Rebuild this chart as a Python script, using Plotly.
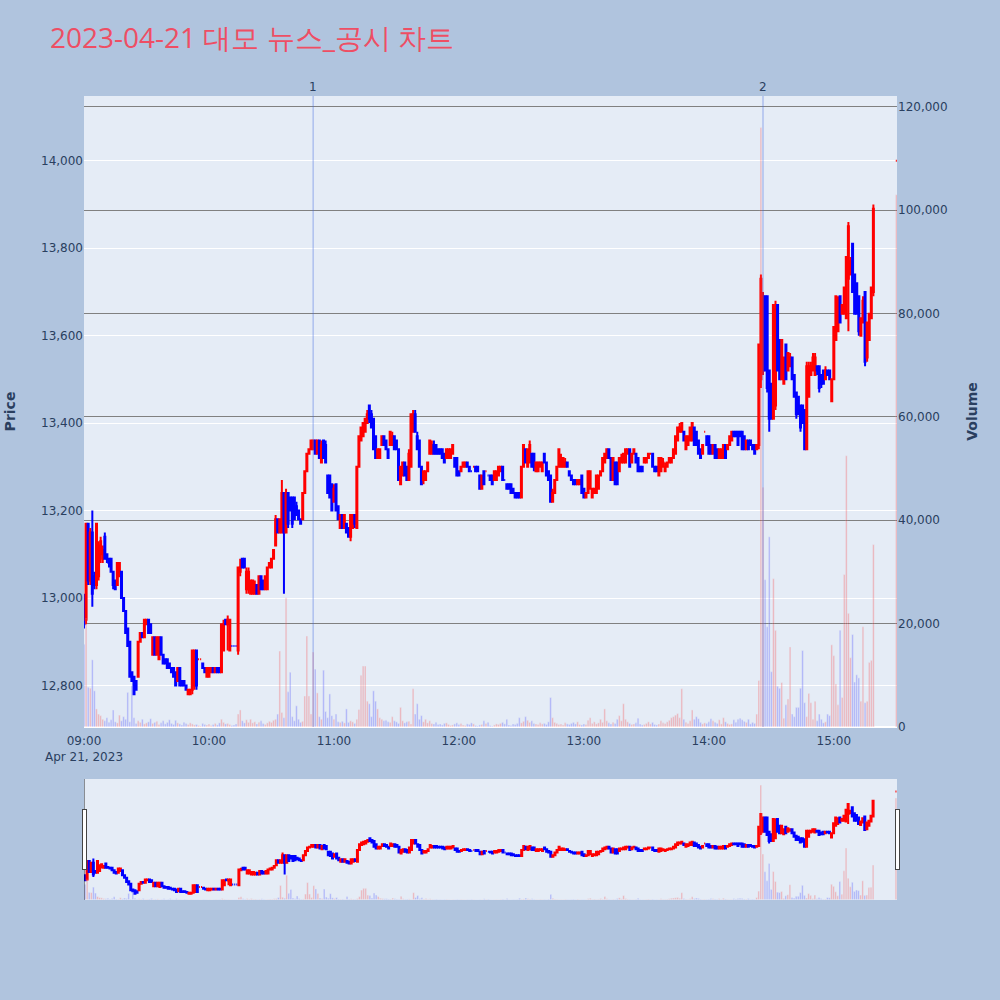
import plotly.graph_objects as go
import pandas as pd

# one value per minute, 09:00 .. 15:19, then the 15:30 closing auction
opens = [
13000,12950,13170,13040,13150,13050,13030,13050,13100,13090,  # 0
13140,13100,13090,13090,13060,13040,13030,13050,13060,13000,  # 10
12970,12930,12900,12830,12820,12810,12820,12900,12920,12910,  # 20
12940,12950,12940,12870,12910,12870,12860,12910,12870,12860,  # 30
12860,12850,12840,12840,12830,12810,12840,12810,12810,12800,  # 40
12780,12780,12790,12800,12880,12860,12860,12850,12840,12820,  # 50
12820,12830,12840,12830,12840,12840,12830,12880,12950,12940,  # 60
12880,12890,12890,12890,12880,13060,13090,13090,13020,13020,  # 70
13010,13010,13010,13030,13010,13050,13040,13020,13020,13070,  # 80
13070,13090,13120,13180,13150,13150,13240,13150,13240,13230,  # 90
13230,13230,13210,13200,13180,13180,13240,13290,13330,13340,  # 100
13340,13360,13330,13360,13310,13360,13350,13280,13280,13260,  # 110
13220,13260,13210,13160,13190,13160,13170,13160,13140,13160,  # 120
13190,13160,13300,13360,13370,13380,13400,13440,13420,13410,  # 130
13370,13320,13320,13350,13370,13360,13340,13350,13350,13370,  # 140
13360,13340,13260,13280,13310,13300,13270,13300,13380,13420,  # 150
13370,13360,13300,13270,13270,13290,13330,13330,13350,13350,  # 160
13340,13340,13340,13330,13320,13320,13320,13330,13320,13320,  # 170
13290,13290,13300,13300,13310,13300,13290,13300,13300,13300,  # 180
13280,13250,13290,13290,13280,13280,13280,13270,13270,13280,  # 190
13290,13300,13270,13260,13260,13260,13250,13240,13240,13240,  # 200
13230,13300,13340,13300,13310,13330,13330,13290,13290,13300,  # 210
13290,13330,13310,13290,13280,13220,13240,13270,13300,13300,  # 220
13300,13300,13310,13290,13280,13270,13270,13260,13260,13280,  # 230
13250,13230,13240,13250,13230,13240,13240,13250,13280,13290,  # 240
13310,13320,13340,13320,13270,13310,13310,13290,13310,13310,  # 250
13310,13330,13340,13310,13330,13330,13320,13300,13300,13310,  # 260
13310,13320,13330,13330,13300,13300,13280,13290,13300,13290,  # 270
13300,13310,13310,13320,13330,13360,13380,13380,13380,13340,  # 280
13350,13360,13360,13390,13380,13360,13340,13330,13380,13370,  # 290
13370,13350,13330,13350,13340,13320,13320,13320,13350,13340,  # 300
13350,13360,13380,13380,13380,13380,13380,13370,13340,13360,  # 310
13360,13350,13350,13340,13350,13500,13520,13690,13690,13520,  # 320
13490,13410,13440,13670,13590,13500,13490,13580,13520,13530,  # 330
13550,13510,13470,13460,13440,13440,13430,13340,13460,13510,  # 340
13520,13510,13530,13530,13510,13520,13500,13520,13520,13450,  # 350
13500,13590,13610,13690,13650,13650,13640,13730,13740,13810,  # 360
13740,13720,13690,13600,13630,13700,13550,13590,13640,13700,  # 370
14000]

highs = [
13010,13170,13170,13160,13200,13060,13170,13130,13140,13120,  # 0
13150,13100,13090,13090,13060,13040,13080,13080,13060,13000,  # 10
12970,12930,12900,12830,12820,12810,12900,12920,12920,12950,  # 20
12950,12950,12940,12910,12910,12910,12910,12910,12870,12860,  # 30
12860,12850,12840,12840,12830,12840,12840,12810,12810,12800,  # 40
12790,12790,12880,12880,12880,12860,12860,12850,12840,12840,  # 50
12840,12840,12840,12840,12840,12840,12940,12950,12950,12960,  # 60
12950,12890,12890,12890,13070,13090,13090,13090,13070,13070,  # 70
13040,13040,13040,13030,13050,13050,13040,13050,13070,13080,  # 80
13090,13110,13190,13180,13180,13270,13240,13250,13240,13230,  # 90
13230,13230,13220,13200,13180,13240,13290,13330,13340,13360,  # 100
13360,13360,13360,13360,13360,13360,13360,13280,13280,13260,  # 110
13260,13260,13210,13190,13190,13190,13170,13160,13190,13190,  # 120
13190,13300,13370,13390,13400,13410,13430,13440,13430,13410,  # 130
13370,13340,13340,13370,13370,13360,13340,13380,13380,13370,  # 140
13360,13340,13300,13310,13310,13300,13340,13420,13430,13430,  # 150
13380,13360,13300,13290,13290,13310,13360,13360,13360,13350,  # 160
13340,13340,13340,13330,13340,13340,13340,13350,13320,13320,  # 170
13290,13300,13310,13310,13310,13300,13290,13300,13300,13300,  # 180
13280,13280,13290,13290,13280,13280,13280,13290,13290,13300,  # 190
13300,13300,13270,13260,13260,13260,13250,13240,13240,13240,  # 200
13300,13350,13340,13340,13360,13330,13330,13310,13310,13310,  # 210
13310,13330,13310,13290,13280,13250,13270,13300,13340,13330,  # 220
13320,13320,13310,13290,13280,13270,13270,13270,13270,13280,  # 230
13250,13240,13290,13290,13250,13250,13280,13280,13290,13320,  # 240
13330,13340,13340,13320,13320,13310,13310,13320,13330,13330,  # 250
13340,13340,13340,13330,13340,13330,13320,13300,13300,13320,  # 260
13320,13330,13330,13330,13300,13300,13320,13320,13320,13310,  # 270
13310,13320,13320,13340,13370,13390,13400,13400,13380,13370,  # 280
13370,13390,13400,13390,13380,13360,13340,13350,13380,13370,  # 290
13370,13350,13350,13350,13340,13340,13340,13350,13350,13350,  # 300
13370,13380,13380,13380,13380,13380,13380,13370,13360,13360,  # 310
13360,13350,13350,13350,13580,13740,13700,13690,13690,13520,  # 320
13490,13670,13680,13670,13590,13590,13550,13580,13560,13560,  # 330
13550,13510,13470,13460,13440,13440,13430,13540,13540,13540,  # 340
13560,13560,13530,13530,13510,13520,13530,13520,13520,13500,  # 350
13620,13690,13690,13690,13670,13710,13780,13860,13780,13810,  # 360
13740,13720,13690,13640,13690,13700,13630,13650,13710,13900,  # 370
14000]

lows = [
12930,12940,13030,13030,12980,13020,13020,13040,13080,13080,  # 0
13090,13080,13070,13060,13020,13020,13030,13050,13000,12970,  # 10
12920,12890,12820,12810,12780,12790,12820,12900,12910,12910,  # 20
12940,12920,12920,12870,12870,12870,12860,12870,12850,12850,  # 30
12840,12840,12830,12820,12800,12810,12800,12800,12800,12790,  # 40
12780,12780,12780,12790,12790,12860,12860,12840,12830,12820,  # 50
12820,12830,12830,12830,12830,12830,12830,12880,12940,12880,  # 60
12880,12890,12890,12890,12870,13050,13070,13070,13010,13010,  # 70
13010,13010,13010,13010,13010,13020,13020,13020,13020,13070,  # 80
13070,13090,13120,13150,13150,13150,13010,13150,13160,13200,  # 90
13160,13180,13190,13180,13170,13180,13240,13290,13330,13340,  # 100
13340,13330,13330,13320,13310,13320,13310,13240,13230,13200,  # 110
13220,13200,13180,13160,13160,13160,13150,13140,13130,13160,  # 120
13160,13160,13300,13360,13370,13380,13400,13400,13390,13340,  # 130
13320,13320,13320,13350,13350,13340,13320,13350,13350,13340,  # 140
13340,13270,13260,13280,13280,13270,13270,13300,13380,13380,  # 150
13340,13300,13260,13260,13270,13290,13330,13330,13330,13330,  # 160
13330,13330,13320,13310,13320,13320,13320,13330,13300,13280,  # 170
13280,13290,13300,13300,13300,13290,13290,13300,13290,13290,  # 180
13250,13250,13260,13290,13280,13270,13260,13270,13270,13280,  # 190
13290,13270,13270,13250,13250,13240,13240,13230,13230,13230,  # 200
13230,13300,13310,13300,13310,13300,13290,13290,13290,13300,  # 210
13290,13310,13280,13270,13220,13220,13240,13270,13300,13300,  # 220
13300,13300,13300,13280,13270,13260,13260,13260,13260,13240,  # 230
13230,13230,13240,13250,13230,13240,13240,13250,13280,13290,  # 240
13310,13320,13320,13270,13270,13260,13260,13290,13310,13310,  # 250
13310,13330,13300,13310,13330,13310,13290,13290,13290,13310,  # 260
13310,13320,13330,13300,13290,13290,13280,13290,13300,13290,  # 270
13300,13310,13310,13320,13330,13360,13380,13380,13360,13340,  # 280
13350,13360,13360,13350,13350,13330,13320,13330,13380,13350,  # 290
13330,13330,13330,13320,13320,13320,13320,13320,13320,13340,  # 300
13350,13360,13370,13370,13350,13370,13340,13340,13340,13340,  # 310
13350,13340,13330,13340,13340,13480,13510,13520,13470,13380,  # 320
13410,13410,13430,13520,13500,13500,13490,13500,13520,13530,  # 330
13500,13460,13410,13420,13380,13400,13340,13340,13460,13510,  # 340
13520,13510,13510,13470,13480,13490,13500,13510,13500,13450,  # 350
13500,13590,13610,13630,13650,13650,13640,13610,13740,13700,  # 360
13650,13650,13600,13600,13630,13530,13540,13590,13640,13690,  # 370
14000]

closes = [
12940,13170,13040,13150,13010,13030,13170,13120,13130,13110,  # 0
13090,13090,13080,13060,13030,13020,13080,13080,13000,12970,  # 10
12920,12890,12820,12810,12780,12790,12900,12920,12910,12950,  # 20
12950,12920,12920,12910,12870,12910,12910,12870,12850,12850,  # 30
12840,12840,12830,12820,12800,12840,12800,12800,12800,12790,  # 40
12790,12790,12880,12880,12800,12860,12860,12840,12830,12840,  # 50
12840,12840,12830,12840,12830,12830,12940,12940,12940,12950,  # 60
12950,12890,12890,12890,13070,13070,13070,13070,13060,13060,  # 70
13040,13040,13030,13010,13050,13020,13020,13050,13070,13080,  # 80
13090,13110,13180,13150,13180,13240,13150,13240,13170,13200,  # 90
13170,13180,13190,13180,13170,13240,13290,13330,13340,13360,  # 100
13360,13330,13360,13320,13350,13320,13310,13240,13230,13200,  # 110
13250,13200,13180,13190,13160,13190,13150,13140,13190,13190,  # 120
13170,13300,13370,13390,13400,13410,13420,13410,13390,13340,  # 130
13320,13340,13340,13370,13350,13340,13320,13380,13370,13340,  # 140
13340,13270,13300,13310,13280,13270,13330,13420,13420,13380,  # 150
13340,13300,13260,13290,13290,13310,13360,13350,13330,13330,  # 160
13330,13330,13320,13310,13340,13340,13340,13350,13300,13280,  # 170
13280,13300,13310,13310,13300,13290,13290,13300,13290,13290,  # 180
13250,13280,13260,13290,13280,13270,13260,13290,13290,13300,  # 190
13300,13270,13270,13250,13250,13240,13240,13230,13230,13230,  # 200
13300,13350,13310,13340,13350,13300,13300,13310,13310,13310,  # 210
13310,13310,13280,13270,13220,13240,13270,13300,13340,13320,  # 220
13320,13310,13300,13280,13270,13260,13260,13270,13270,13240,  # 230
13230,13240,13290,13290,13250,13250,13280,13280,13290,13320,  # 240
13330,13340,13320,13270,13320,13260,13260,13320,13320,13330,  # 250
13340,13340,13300,13330,13340,13310,13290,13290,13290,13320,  # 260
13320,13330,13330,13300,13290,13290,13320,13320,13310,13300,  # 270
13310,13320,13320,13340,13370,13390,13390,13400,13360,13370,  # 280
13370,13390,13400,13350,13350,13330,13320,13350,13380,13350,  # 290
13330,13330,13350,13320,13320,13340,13340,13350,13320,13350,  # 300
13370,13380,13370,13370,13350,13370,13340,13340,13360,13340,  # 310
13350,13340,13330,13350,13580,13730,13690,13520,13480,13410,  # 320
13410,13670,13660,13520,13500,13590,13550,13500,13560,13550,  # 330
13500,13460,13420,13420,13390,13400,13340,13530,13530,13530,  # 340
13550,13550,13520,13480,13490,13490,13520,13510,13500,13500,  # 350
13620,13690,13680,13630,13670,13710,13780,13850,13770,13700,  # 360
13650,13650,13610,13640,13680,13540,13630,13650,13710,13890,  # 370
14000]

volumes = [
16000,21000,7700,7500,13000,7000,3500,2500,2200,1500,  # 0
1200,1800,900,1400,3300,1000,800,2300,1200,2000,  # 10
1500,6700,1000,8000,1800,700,1200,900,1500,600,  # 20
800,1000,1600,700,900,1100,500,800,1200,600,  # 30
900,1400,700,500,1300,800,600,400,900,700,  # 40
500,800,600,400,500,300,200,700,500,400,  # 50
600,300,500,700,400,800,1500,900,600,700,  # 60
500,300,400,600,2500,3300,1200,800,1400,900,  # 70
1500,800,1000,600,900,1200,700,500,800,1100,  # 80
900,1300,1500,2500,14700,2800,1800,25000,6800,10600,  # 90
2000,1200,4100,1500,900,1100,6000,17600,6000,2500,  # 100
14500,11200,6600,2000,1500,11000,3000,1800,6400,2200,  # 110
1500,2500,1000,900,1100,800,3500,900,1200,1000,  # 120
700,1500,3400,10000,11800,11800,5000,4500,2000,7000,  # 130
5000,3500,1800,1500,1200,1300,1000,900,2000,1200,  # 140
1000,700,3800,1200,800,1000,1100,600,7400,2500,  # 150
4500,1500,2200,1000,1500,800,1200,700,600,900,  # 160
500,600,400,700,800,500,300,400,600,800,  # 170
500,700,400,300,600,500,800,600,300,200,  # 180
400,500,1200,700,900,300,200,400,600,500,  # 190
700,900,600,1500,400,300,600,500,700,1800,  # 200
800,1100,2000,1300,900,1200,700,600,500,800,  # 210
600,700,500,1000,5700,1800,900,700,500,600,  # 220
400,800,600,500,700,900,600,1000,500,400,  # 230
600,500,1300,1800,700,1000,600,800,1500,900,  # 240
3500,1200,800,600,900,700,1500,2200,1200,4500,  # 250
1500,1000,700,500,600,800,1700,600,400,500,  # 260
700,1000,600,900,500,400,600,1200,800,700,  # 270
1000,1300,1800,2000,2300,2600,1800,7400,1500,900,  # 280
700,1200,3300,1500,2000,1600,900,600,800,700,  # 290
1000,1600,1200,900,700,1400,600,1800,1000,700,  # 300
500,600,1400,900,1500,1700,1400,1100,900,1500,  # 310
600,900,700,2500,9000,116000,46400,28500,19400,36800,  # 320
10700,28700,18700,7900,7500,8600,1700,4300,5400,15500,  # 330
2500,2000,3800,3800,7500,14800,4700,2000,6500,4700,  # 340
1500,5000,1200,2500,1500,800,1000,2500,2200,15900,  # 350
13800,8300,4300,18700,5700,29500,52500,22000,13400,17900,  # 360
8700,10100,9500,5000,19400,4700,5000,12500,12900,35300,  # 370
103000]

times = list(pd.date_range("2023-04-21 09:00", periods=380, freq="min")) + [pd.Timestamp("2023-04-21 15:30")]

assert len(opens) == len(highs) == len(lows) == len(closes) == len(volumes) == len(times), \
    (len(opens), len(highs), len(lows), len(closes), len(volumes), len(times))

news_times = ["2023-04-21 10:50", "2023-04-21 14:26"]
news_labels = ["1", "2"]

# bar colour follows candle direction (same rule plotly uses)
bar_colors = []
prev_c = None
prev_inc = True
for o, c in zip(opens, closes):
    if c == o:
        d = (c > prev_c) if (prev_c is not None and c != prev_c) else prev_inc
    else:
        d = c > o
    bar_colors.append("red" if d else "blue")
    prev_inc = d
    prev_c = c

fig = go.Figure()
fig.add_trace(go.Candlestick(
    x=times, open=opens, high=highs, low=lows, close=closes,
    increasing=dict(line=dict(color="red"), fillcolor="red"),
    decreasing=dict(line=dict(color="blue"), fillcolor="blue"),
    name="Price", yaxis="y"))
fig.add_trace(go.Bar(
    x=times, y=volumes, marker=dict(color=bar_colors, opacity=0.25),
    name="Volume", yaxis="y2"))

for t, lab in zip(news_times, news_labels):
    fig.add_shape(type="line", x0=t, x1=t, y0=0, y1=1, xref="x", yref="paper",
                  line=dict(color="royalblue", width=1), opacity=0.5)
    fig.add_annotation(x=t, y=1, xref="x", yref="paper", text=lab,
                       showarrow=False, yanchor="bottom")

fig.update_layout(
    width=1000, height=1000,
    font=dict(family="Verdana, DejaVu Sans, sans-serif", size=12),
    title=dict(text="2023-04-21 대모 뉴스_공시 차트",
               font=dict(family="Open Sans", size=28, color="#EE4E64")),
    paper_bgcolor="lightsteelblue",
    margin=dict(l=84, r=103, t=96, b=100),
    showlegend=False,
    xaxis=dict(rangeslider=dict(visible=True),
               range=["2023-04-21 09:00", "2023-04-21 15:30:20"],
               ticks="outside", ticklen=3, tickcolor="rgba(0,0,0,0)"),
    yaxis=dict(title=dict(text="<b>Price</b>", font=dict(size=14), standoff=22),
               range=[12705, 14148], tickformat=",", automargin=False),
    yaxis2=dict(title=dict(text="<b>Volume</b>", font=dict(size=14), standoff=20),
                overlaying="y", side="right", automargin=False,
                tickformat=",", gridcolor="gray", showgrid=True),
)

fig.write_html("out.html", config={"displayModeBar": False},
               post_script="document.body.style.margin='0';document.body.style.padding='0';")
